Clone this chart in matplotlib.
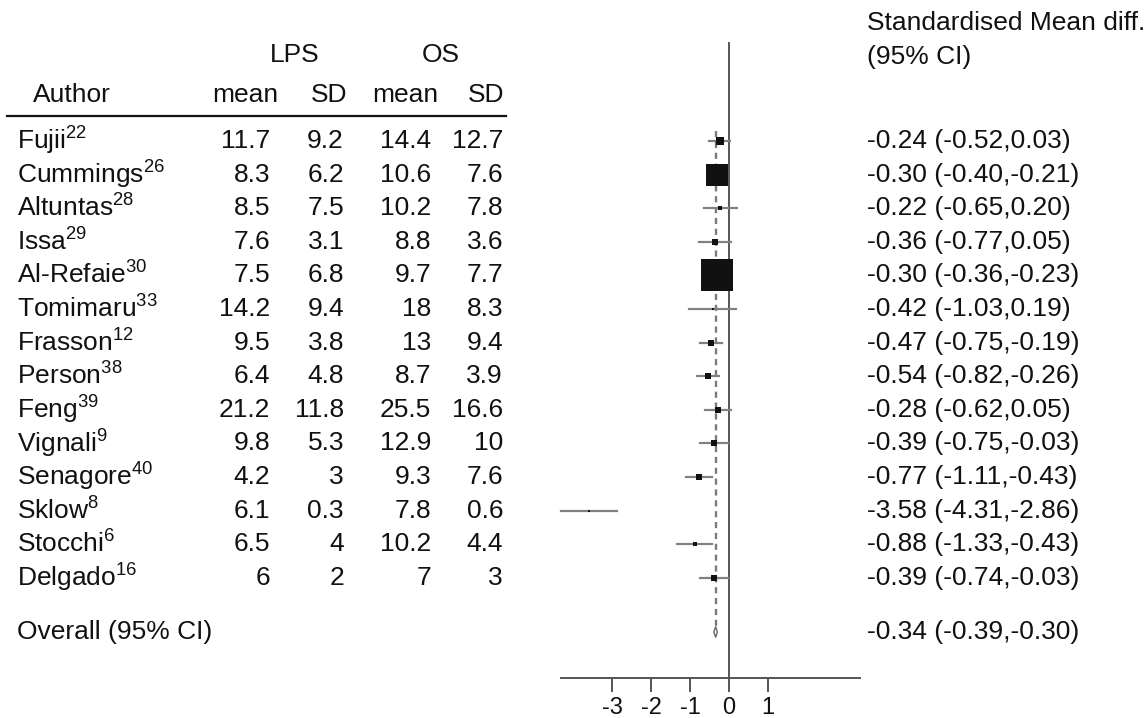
import matplotlib
matplotlib.use("Agg")
import matplotlib.pyplot as plt

plt.rcParams['font.family'] = ['Liberation Sans', 'DejaVu Sans']
plt.rcParams['mathtext.fontset'] = 'custom'
plt.rcParams['mathtext.rm'] = 'Liberation Sans'
plt.rcParams['mathtext.default'] = 'regular'

# study data
authors = ["Fujii", "Cummings", "Altuntas", "Issa", "Al-Refaie", "Tomimaru", "Frasson",
           "Person", "Feng", "Vignali", "Senagore", "Sklow", "Stocchi", "Delgado"]
refs = ["22", "26", "28", "29", "30", "33", "12", "38", "39", "9", "40", "8", "6", "16"]
lps_mean = [11.7, 8.3, 8.5, 7.6, 7.5, 14.2, 9.5, 6.4, 21.2, 9.8, 4.2, 6.1, 6.5, 6]
lps_sd = [9.2, 6.2, 7.5, 3.1, 6.8, 9.4, 3.8, 4.8, 11.8, 5.3, 3, 0.3, 4, 2]
os_mean = [14.4, 10.6, 10.2, 8.8, 9.7, 18, 13, 8.7, 25.5, 12.9, 9.3, 7.8, 10.2, 7]
os_sd = [12.7, 7.6, 7.8, 3.6, 7.7, 8.3, 9.4, 3.9, 16.6, 10, 7.6, 0.6, 4.4, 3]
smd = [-0.24, -0.30, -0.22, -0.36, -0.30, -0.42, -0.47, -0.54, -0.28, -0.39, -0.77, -3.58, -0.88, -0.39]
lower = [-0.52, -0.40, -0.65, -0.77, -0.36, -1.03, -0.75, -0.82, -0.62, -0.75, -1.11, -4.31, -1.33, -0.74]
upper = [0.03, -0.21, 0.20, 0.05, -0.23, 0.19, -0.19, -0.26, 0.05, -0.03, -0.43, -2.86, -0.43, -0.03]
# relative box size (study weight)
weight = [7.5, 23, 5, 6.5, 32, 3, 7, 7, 7, 6.5, 6.5, 3, 5, 6.5]
overall = [-0.34, -0.39, -0.30]
xticks = [-3, -2, -1, 0, 1]

W, H = 1148, 718
fig = plt.figure(figsize=(W / 100, H / 100), dpi=100)
ax = fig.add_axes([0, 0, 1, 1])
ax.axis('off')

# 39 px per unit, zero at x=729 px; rows 33.6 px apart starting at y=141 px
ppu, x0 = 39.0, 729.0
y0, dy = 141.0, 33.6
ax.set_xlim(-x0 / ppu, (W - x0) / ppu)
ax.set_ylim((H - y0) / dy, -y0 / dy)


def row(ypx):
    return (ypx - y0) / dy


tr = ax.get_yaxis_transform()  # x in axes fraction, y in rows
fs = 19
txt = '#111111'

# header
ax.text(295 / W, row(55), "LPS", transform=tr, ha='center', va='center', fontsize=fs, color=txt)
ax.text(441 / W, row(55), "OS", transform=tr, ha='center', va='center', fontsize=fs, color=txt)
for lab, xc in [("Author", 72), ("mean", 245), ("SD", 329), ("mean", 405), ("SD", 486)]:
    ax.text(xc / W, row(95), lab, transform=tr, ha='center', va='center', fontsize=fs, color=txt)
ax.plot([7 / W, 506 / W], [row(116), row(116)], transform=tr, color='#111111', lw=1.6)
ax.text(867 / W, row(23), "Standardised Mean diff.", transform=tr, ha='left', va='center', fontsize=fs, color=txt)
ax.text(867 / W, row(57), "(95% CI)", transform=tr, ha='left', va='center', fontsize=fs, color=txt)

# table rows
for i in range(len(authors)):
    ax.text(17 / W, i, authors[i] + "$^{" + refs[i] + "}$", transform=tr, ha='left', va='center',
            fontsize=fs, color=txt)
    for vals, xr in [(lps_mean, 270), (lps_sd, 344), (os_mean, 431), (os_sd, 503)]:
        ax.text(xr / W, i, f"{vals[i]:g}", transform=tr, ha='right', va='center', fontsize=fs, color=txt)
    ax.text(867 / W, i, f"{smd[i]:.2f} ({lower[i]:.2f},{upper[i]:.2f})", transform=tr,
            ha='left', va='center', fontsize=fs, color=txt)

ov_row = row(632)
ax.text(17 / W, ov_row, "Overall (95% CI)", transform=tr, ha='left', va='center', fontsize=fs, color=txt)
ax.text(867 / W, ov_row, f"{overall[0]:.2f} ({overall[1]:.2f},{overall[2]:.2f})", transform=tr,
        ha='left', va='center', fontsize=fs, color=txt)

# forest plot
axis_row = row(678)
ax.plot([0, 0], [row(43), axis_row], color='#555555', lw=1.4, zorder=2)
ax.plot([overall[0], overall[0]], [-0.3, ov_row - 0.15], color='#7a7a7a', lw=1.7,
        ls=(0, (2.6, 2.0)), zorder=1)
for i in range(len(authors)):
    ax.plot([lower[i], upper[i]], [i, i], color='#808080', lw=1.6, zorder=3)
    ax.plot(smd[i], i, marker='s', ms=weight[i] / 1.389, color='#111111', mew=0, zorder=4)

# overall diamond
ax.fill([overall[1], overall[0], overall[2], overall[0], overall[1]],
        [ov_row, ov_row - 0.16, ov_row, ov_row + 0.16, ov_row],
        facecolor='white', edgecolor='#666666', lw=1.0, zorder=4)

# x axis
ax.plot([min(lower), 3.35], [axis_row, axis_row], color='#555555', lw=1.4)
for t in xticks:
    ax.plot([t, t], [axis_row, row(691)], color='#555555', lw=1.4)
    ax.text(t, row(708), f"{t}", ha='center', va='center', fontsize=17, color=txt)

fig.savefig("out.png", dpi=100)
